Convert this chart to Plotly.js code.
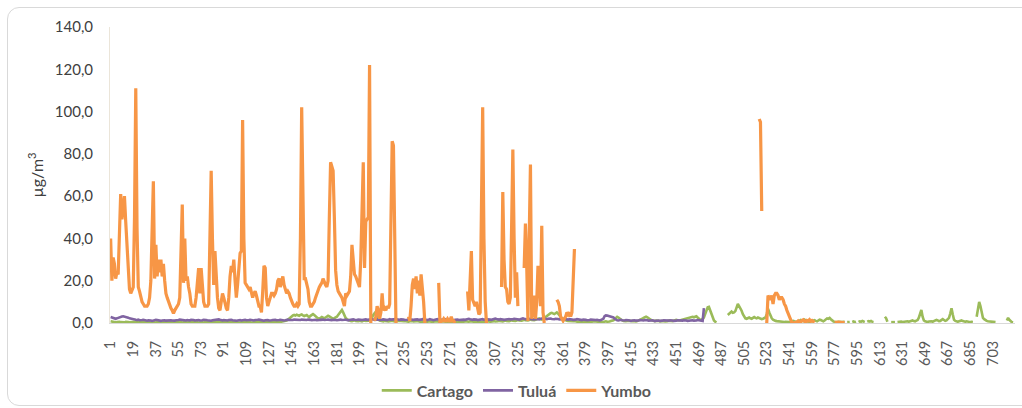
<!DOCTYPE html>
<html>
<head>
<meta charset="utf-8">
<script src="https://cdn.plot.ly/plotly-3.0.1.min.js"></script>
<style>
  html, body { margin:0; padding:0; background:#ffffff; width:1022px; height:408px; overflow:hidden; }
  #chart { position:absolute; left:0; top:0; width:1022px; height:408px; }
  #frame { position:absolute; left:7px; top:7px; width:1040px; height:399px; border:1px solid #d9d9d9; border-radius:12px; pointer-events:none; box-sizing:border-box; }
</style>
</head>
<body>
<div id="chart"></div>
<div id="frame"></div>
<script>
// ---------------- DATA ----------------
const nCategories = 720;
const seriesNames = ["Cartago", "Tuluá", "Yumbo"];
const tickLabels = [1,19,37,55,73,91,109,127,145,163,181,199,217,235,253,271,289,307,325,343,361,379,397,415,433,451,469,487,505,523,541,559,577,595,613,631,649,667,685,703];
const yTicks = [0,20,40,60,80,100,120,140];

// Yumbo segments (start index, values)
const yumboA = [ // 1..208
 40,20,31,28,21,24,23,45,61,49,
 55,60,48,35,25,16,14,16,17,50,
 111,45,17,15,12,10,9,8,8,8,
 9,12,20,45,67,21,37,22,30,24,
 30,22,28,20,14,12,10,8,7,6,
 4.5,6,7,8,9,12,30,56,19,40,
 20,22,17,14,9,8,8,8,12,22,
 26,14,26,18,10,8,8,8,9,40,
 72,40,18,34,20,12,7,6,10,14,
 12,9,7,6,12,22,27,24,30,20,
 12,18,25,33,34,96,40,19,18,17,
 16,17,14,12,14,15,13,10,8,8,
 5,15,27,26,12,8,10,12,14,14,
 13,14,16,20,21,17,19,22,18,16,
 14,15,14,12,10,9,8,8,9,8,
 9,40,102,45,21,21,18,16,10,8,
 8,9,10,12,14,16,17,18,19,21,
 19,18,17,20,50,76,74,72,50,25,
 18,15,14,13,12,10,8,14,13,14,
 15,22,37,30,23,22,20,18,17,30,
 50,76,26,48,49,50,122,0];
const yumboB = [1,3,8,6,2,5,14,6,7,6,8,7,9,60,86,84,40,0];          // 211..228
const yumboC = [3,1,8,18,21,16,22,14,20,13,23,17,10,0];             // 238..251
const yumboD = [19,0,1,1,2,1,1,2,1,1,3,1,1,0];                      // 262..275
const yumboE = [15,6,20,34,11,9,8,10,6,4,5,55,102,40,10,0];         // 285..300
const yumboF = [17,62,30,17,16,10,9,12,45,82,40,12,24,8];           // 312..325
const yumboG = [26,47,28,1,40,75,2,5,13,2,10,27,20,8,46,5,0];       // 330..346
const yumboH = [11,10,8,3,2,1,2,3,5,4,5,3,5,20,35];                 // 356..370
const yumboI = [96.5,95,53];                                        // 517..519
const yumboJ = [0,0,13,12,11,13,9,13,14,14,13,11,12,12,11,9,8,6,4.5,2.5,
                0.8,0.2,0,0,0.3,0.5,1,0.5,0.3,1.2,1.5,0.8,0.5,1.2,1.0,1.6,0.8,1.2,0.5,0.2]; // 522..561
const yumboK = [0.3,0.2,0.3,0.4,0.3,0.2,0.3,0.2,0.3];               // 577..585

const tuluaA = [ // 1..473
 2.8,2.6,2.2,2.0,2.0,2.2,2.5,2.8,3.0,3.1,3.2,3.1,3.0,2.8,2.5,2.2,2.0,1.8,1.6,1.5,
 1.5,1.4,1.6,1.3,1.2,1.4,1.5,1.3,1.2,1.1,1.3,1.4,1.2,1.0,1.2,1.3,1.5,1.4,1.2,1.1,
 1.0,1.2,1.4,1.3,1.1,1.2,1.4,1.5,1.3,1.2,1.0,1.1,1.3,1.2,1.4,1.6,1.5,1.3,1.1,1.0,
 1.2,1.4,1.3,1.2,1.5,1.6,1.4,1.2,1.3,1.5,1.4,1.2,1.1,1.3,1.5,1.6,1.4,1.3,1.2,1.0,
 1.1,1.3,1.4,1.2,1.3,1.5,1.7,1.5,1.3,1.2,1.4,1.3,1.1,1.2,1.4,1.6,1.5,1.3,1.4,1.2,
 1.1,1.3,1.5,1.4,1.2,1.3,1.6,1.5,1.3,1.2,1.4,1.5,1.3,1.1,1.2,1.4,1.3,1.5,1.6,1.4,
 1.2,1.0,1.1,1.3,1.5,1.4,1.2,1.1,1.3,1.4,1.6,1.5,1.3,1.2,1.4,1.5,1.3,1.1,1.2,1.3,
 1.5,1.6,1.4,1.3,1.2,1.4,1.6,1.5,1.7,1.5,1.3,1.4,1.6,1.5,1.3,1.2,1.4,1.6,1.7,1.5,
 1.3,1.4,1.6,1.5,1.3,1.2,1.4,1.5,1.7,1.6,1.4,1.3,1.5,1.6,1.4,1.2,1.3,1.5,1.6,1.4,
 1.3,1.5,1.7,1.6,1.4,1.3,1.5,1.6,1.4,1.2,1.4,1.6,1.8,1.7,1.5,1.3,1.4,1.6,1.7,1.5,
 1.4,1.6,1.8,1.7,1.5,1.4,1.6,1.8,1.9,1.7,1.5,1.6,1.8,1.7,1.5,1.4,1.6,1.7,1.5,1.3,
 1.4,1.6,1.8,1.6,1.5,1.7,1.9,1.8,1.6,1.4,1.5,1.7,1.8,1.6,1.4,1.3,1.5,1.7,1.6,1.4,
 1.3,1.5,1.6,1.8,1.7,1.5,1.4,1.6,1.8,1.7,1.5,1.3,1.4,1.6,1.8,1.6,1.4,1.3,1.5,1.7,
 1.8,1.6,1.4,1.5,1.7,1.9,1.8,1.6,1.5,1.7,1.8,1.6,1.4,1.3,1.5,1.7,1.6,1.4,1.5,1.7,
 1.8,1.6,1.5,1.7,1.9,2.0,1.8,1.6,1.5,1.7,1.8,1.6,1.4,1.5,1.7,1.9,1.8,1.6,1.4,1.5,
 1.7,1.8,1.6,1.5,1.7,1.9,2.1,1.9,1.7,1.6,1.8,1.9,1.7,1.5,1.6,1.8,2.0,1.9,1.7,1.6,
 1.8,2.0,1.9,1.7,1.5,1.6,1.8,2.0,2.2,2.0,1.8,1.7,1.9,2.1,2.0,1.8,1.6,1.7,1.9,2.0,
 1.8,1.7,1.9,2.1,2.3,2.1,1.9,1.8,2.0,2.2,2.1,1.9,1.7,1.8,2.0,2.1,1.9,1.7,1.6,1.8,
 2.0,1.9,1.7,1.5,1.6,1.8,1.9,1.7,1.5,1.4,1.6,1.8,1.7,1.5,1.3,1.4,1.6,1.7,1.5,1.3,
 1.2,1.4,1.6,1.5,1.3,1.2,1.4,1.5,1.3,1.2,1.4,1.6,2.0,3.2,3.6,3.5,3.3,3.4,3.2,3.0,
 2.6,2.0,1.5,1.3,1.2,1.4,1.5,1.3,1.1,1.2,1.4,1.5,1.3,1.2,1.0,1.2,1.4,1.3,1.1,1.0,
 1.2,1.4,1.3,1.1,1.2,1.4,1.5,1.3,1.1,1.0,1.2,1.3,1.1,0.9,1.1,1.3,1.2,1.0,0.9,1.1,
 1.3,1.2,1.0,0.9,1.1,1.3,1.4,1.2,1.0,0.9,1.1,1.3,1.2,1.0,0.9,1.1,1.3,1.4,1.2,1.0,
 1.1,1.3,1.5,1.3,1.1,1.0,1.2,1.4,1.3,1.1,1.2,1.0,7.0];

const cartagoA = [ // 1..483
 0.8,0.6,0.5,0.4,0.3,0.5,0.7,0.6,0.4,0.3,0.2,0.3,0.5,0.6,0.4,0.3,0.2,0.4,0.6,0.5,
 0.4,0.3,0.2,0.3,0.5,0.4,0.3,0.2,0.3,0.4,0.5,0.3,0.2,0.3,0.4,0.3,0.2,0.4,0.5,0.3,
 0.2,0.3,0.4,0.3,0.2,0.3,0.5,0.4,0.3,0.2,0.3,0.4,0.3,0.2,0.4,0.5,0.3,0.2,0.3,0.4,
 0.3,0.2,0.4,0.5,0.3,0.2,0.3,0.4,0.5,0.3,0.2,0.3,0.4,0.3,0.2,0.4,0.5,0.3,0.2,0.3,
 0.4,0.3,0.2,0.3,0.5,0.6,0.4,0.3,0.2,0.3,0.4,0.3,0.2,0.4,0.5,0.4,0.3,0.2,0.3,0.4,
 0.5,0.3,0.2,0.3,0.4,0.5,0.6,0.4,0.3,0.4,0.5,0.3,0.2,0.3,0.4,0.5,0.4,0.3,0.2,0.4,
 0.5,0.6,0.4,0.3,0.5,0.6,0.5,0.4,0.6,0.7,0.5,0.4,0.6,0.8,0.7,0.5,0.6,0.8,1.0,0.9,
 1.2,1.6,2.2,2.8,3.2,3.6,3.8,3.5,3.9,3.7,3.4,3.8,4.0,3.6,3.3,3.5,3.8,3.2,2.8,3.4,
 3.9,4.2,3.8,3.2,2.6,2.2,2.0,2.4,2.8,2.5,2.2,2.6,3.0,3.4,3.1,2.6,2.2,2.0,2.3,2.6,
 3.0,3.8,4.8,5.8,6.2,5.0,3.6,2.4,1.8,1.4,1.2,1.0,0.9,1.1,1.3,1.0,0.8,0.9,1.1,0.9,
 0.8,1.0,1.2,1.0,0.9,1.1,1.4,1.8,2.6,3.8,4.6,3.8,2.6,1.6,1.2,1.0,0.9,0.8,1.0,1.1,
 0.9,0.8,1.0,1.2,1.1,0.9,0.8,0.7,0.9,1.1,1.0,0.8,0.7,0.9,1.0,0.8,0.7,0.6,0.8,1.0,
 0.9,0.7,0.6,0.8,0.9,0.7,0.6,0.5,0.7,0.8,0.6,0.5,0.7,0.9,0.8,0.6,0.5,0.6,0.8,0.7,
 0.5,0.4,0.6,0.8,0.7,0.5,0.4,0.6,0.7,0.5,0.4,0.5,0.7,0.6,0.4,0.5,0.7,0.8,0.6,0.5,
 0.4,0.6,0.8,0.7,0.5,0.6,0.8,0.9,0.7,0.5,0.6,0.8,0.7,0.5,0.4,0.6,0.7,0.5,0.6,0.8,
 0.9,0.7,0.6,0.8,1.0,0.9,0.7,0.6,0.8,1.0,1.1,0.9,0.8,1.0,1.2,1.0,0.8,0.9,1.1,1.3,
 1.1,0.9,1.0,1.2,1.4,1.2,1.0,1.1,1.3,1.5,1.3,1.1,1.2,1.4,1.6,1.4,1.2,1.3,1.5,1.8,
 2.0,2.2,1.8,1.6,1.9,2.4,2.8,3.2,3.8,4.2,4.6,4.8,4.5,4.2,4.6,5.0,4.4,3.6,2.8,2.2,
 1.8,1.5,1.3,1.1,1.0,0.9,0.8,0.7,0.8,0.9,0.7,0.6,0.5,0.7,0.8,0.6,0.5,0.4,0.6,0.7,
 0.6,0.5,0.4,0.6,0.8,0.7,0.5,0.4,0.6,0.7,0.5,0.4,0.5,0.7,0.8,0.6,0.5,0.7,0.9,1.0,
 1.3,1.8,2.4,2.9,2.6,2.0,1.5,1.2,1.0,0.8,0.9,1.1,1.0,0.8,0.7,0.9,1.0,0.8,0.7,0.9,
 1.1,1.3,1.6,2.0,2.4,2.8,3.0,2.7,2.2,1.7,1.4,1.2,1.0,0.9,1.1,1.2,1.0,0.8,0.9,1.1,
 1.0,0.8,0.7,0.9,1.1,1.2,1.0,0.9,1.1,1.3,1.5,1.3,1.1,1.2,1.4,1.6,1.8,2.0,2.2,2.4,
 2.6,2.8,3.0,2.9,2.7,3.0,3.2,2.6,2.0,1.6,1.4,1.8,2.6,4.2,5.8,7.4,7.6,6.0,3.8,2.2,1.2,0.6,0.3];
const cartagoB = [ // 492..585
 3.8,4.2,4.6,5.4,4.8,5.0,5.6,7.0,9.0,8.0,7.0,5.8,4.2,2.8,2.2,2.0,2.4,2.6,2.2,2.0,2.4,2.8,2.4,2.2,2.6,2.4,2.0,1.8,2.0,
 2.2,2.6,4.2,6.8,5.0,3.2,2.2,1.6,1.2,1.0,0.9,0.8,0.7,0.6,0.6,0.5,0.5,0.6,0.5,0.4,
 0.5,0.6,0.8,1.0,0.8,0.6,0.5,0.7,1.0,1.4,1.2,0.9,1.6,1.2,0.8,0.6,0.5,0.7,0.9,1.1,
 1.3,1.0,0.8,1.2,1.6,1.4,1.0,0.8,1.2,1.8,2.2,2.0,2.4,1.8,1.2,0.8,0.5,0.4,0.5,0.6,0.5,0.4,0.5,0.6,0.5];
const cartagoC = [0.4,0.6,0.5];            // 587..589
const cartagoD = [0.5,0.7,0.4,0.6];        // 591..594
const cartagoE = [0.5,0.8,0.6,1.0,0.7,0.5];// 596..601
const cartagoF = [0.6,0.9,0.7,1.0,0.6,0.5];// 603..608
const cartagoG = [3.0,2.2,0.6];            // 617..619
const cartagoH = [0.4,0.3,0.5,0.4];        // 622..625
const cartagoI = [ // 627..687
 0.5,0.6,0.8,0.7,0.5,0.6,0.9,1.0,0.8,0.6,0.7,1.0,1.2,0.9,0.8,1.1,1.4,2.5,5.0,6.2,3.0,1.2,0.8,0.6,
 0.5,0.7,0.9,0.8,0.6,0.8,1.2,1.5,1.2,0.9,1.0,1.3,1.8,1.4,1.0,1.2,1.6,2.4,4.5,7.0,4.0,1.5,
 1.0,0.8,0.6,0.8,1.0,1.2,0.9,0.7,0.6,0.8,0.6,0.5,0.4,0.5,0.4];
const cartagoJ = [3.0,7.0,10.0,8.0,4.0,2.4,1.8,1.2,1.0,0.8,0.7,0.6,0.5,0.6,0.5,0.4]; // 690..705
const cartagoK = [1.2,2.4,1.5,0.8,0.4,0.3]; // 714..719

// ---------------- BUILD ----------------
function place(segments) {
  const arr = new Array(nCategories).fill(null);
  segments.forEach(([start, vals]) => vals.forEach((v, k) => { arr[start - 1 + k] = v; }));
  return arr;
}
const categories = Array.from({length: nCategories}, (_, i) => i + 1);

const cartago = place([[1,cartagoA],[492,cartagoB],[587,cartagoC],[591,cartagoD],[596,cartagoE],[603,cartagoF],[617,cartagoG],[622,cartagoH],[627,cartagoI],[690,cartagoJ],[714,cartagoK]]);
const tulua = place([[1,tuluaA]]);
const yumbo = place([[1,yumboA],[211,yumboB],[238,yumboC],[262,yumboD],[285,yumboE],[312,yumboF],[330,yumboG],[356,yumboH],[517,yumboI],[522,yumboJ],[577,yumboK]]);

const colors = ["#9BBB59", "#8064A2", "#F79646"];
const traces = [
  {x: categories, y: cartago, name: seriesNames[0], type:'scatter', mode:'lines', connectgaps:false, line:{color:colors[0], width:2.6}},
  {x: categories, y: tulua,   name: seriesNames[1], type:'scatter', mode:'lines', connectgaps:false, line:{color:colors[1], width:2.6}},
  {x: categories, y: yumbo,   name: seriesNames[2], type:'scatter', mode:'lines', connectgaps:false, line:{color:colors[2], width:3.2}}
];

const layout = {
  width: 1022, height: 408,
  margin: {l:110, r:7, t:27, b:85, autoexpand:false},
  paper_bgcolor: 'rgba(0,0,0,0)', plot_bgcolor: 'rgba(0,0,0,0)',
  separators: ',.',
  font: {family: 'Lato, "Open Sans", sans-serif', size: 14, color: '#595959'},
  showlegend: true,
  legend: {orientation:'h', x:0.45, xanchor:'center', y:-0.228, yanchor:'middle',
           font:{size:16, color:'#595959', weight:'bold'}, itemwidth:30},
  xaxis: {
    type:'linear', range:[0.5, nCategories + 0.5], tickmode:'array',
    tickvals: tickLabels, ticktext: tickLabels.map(String), tickangle:-90,
    showgrid:false, zeroline:false, showline:true, linecolor:'#d9d9d9', linewidth:1,
    ticks:'outside', ticklen:11, tickcolor:'rgba(0,0,0,0)', tickfont:{size:14.5, color:'#595959'}
  },
  yaxis: {
    range:[0,140], tickmode:'array', tickvals: yTicks, tickformat:'.1f',
    showgrid:false, zeroline:false, showline:true, linecolor:'#ebe5d9', linewidth:1,
    ticks:'outside', ticklen:13, tickcolor:'rgba(0,0,0,0)',
    tickfont:{size:15, color:'#404040'},
    title:{text:'µg/m<sup>3</sup>', font:{size:16, color:'#404040'}, standoff:7}
  }
};

Plotly.newPlot('chart', traces, layout, {staticPlot:true, displayModeBar:false});
</script>
</body>
</html>
